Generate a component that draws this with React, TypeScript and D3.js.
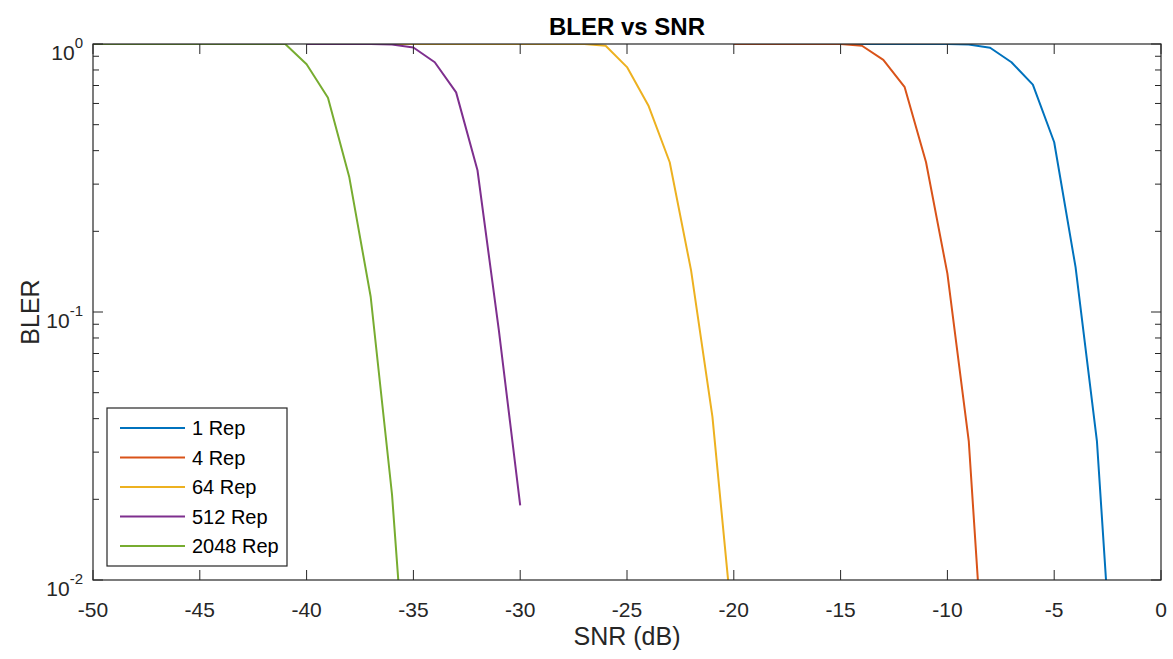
import React, { useEffect, useRef } from "react";
import * as d3 from "d3";

// SNR (dB) sample points for each repetition level
const snr1 = [-15, -14, -13, -12, -11, -10, -9, -8, -7, -6, -5, -4, -3, -2];
const bler1 = [1, 1, 1, 1, 1, 1, 0.995, 0.968, 0.855, 0.705, 0.43, 0.147, 0.033, 0.002];

const snr4 = [-20, -19, -18, -17, -16, -15, -14, -13, -12, -11, -10, -9, -8];
const bler4 = [1, 1, 1, 1, 1, 1, 0.985, 0.873, 0.69, 0.362, 0.139, 0.033, 0.002];

const snr64 = [-40, -39, -38, -37, -36, -35, -34, -33, -32, -31, -30, -29, -28, -27, -26, -25, -24, -23, -22, -21, -20];
const bler64 = [1, 1, 1, 1, 1, 1, 1, 1, 1, 1, 1, 1, 1, 1, 0.985, 0.82, 0.59, 0.362, 0.143, 0.0406, 0.006];

const snr512 = [-40, -39, -38, -37, -36, -35, -34, -33, -32, -31, -30];
const bler512 = [1, 1, 1, 1, 0.995, 0.97, 0.855, 0.66, 0.338, 0.0855, 0.019];

const snr2048 = [-50, -49, -48, -47, -46, -45, -44, -43, -42, -41, -40, -39, -38, -37, -36, -35];
const bler2048 = [1, 1, 1, 1, 1, 1, 1, 1, 1, 1, 0.84, 0.63, 0.318, 0.114, 0.0208, 0.0017];

const seriesNames = ["1 Rep", "4 Rep", "64 Rep", "512 Rep", "2048 Rep"];
const seriesColors = ["#0072BD", "#D95319", "#EDB120", "#7E2F8E", "#77AC30"];
const seriesX = [snr1, snr4, snr64, snr512, snr2048];
const seriesY = [bler1, bler4, bler64, bler512, bler2048];

const xTicks = [-50, -45, -40, -35, -30, -25, -20, -15, -10, -5, 0];
const yMajor = [1, 0.1, 0.01];
const yMajorExp = ["0", "-1", "-2"];

const W = 1173;
const H = 659;
const FONT = "'Liberation Sans', Arial, Helvetica, sans-serif";
const AXIS = "#262626";

const App = () => {
  const ref = useRef<SVGSVGElement | null>(null);

  useEffect(() => {
    if (!ref.current) return;
    const margin = { top: 44, right: 12, bottom: 79, left: 93 };
    const innerW = W - margin.left - margin.right;
    const innerH = H - margin.top - margin.bottom;

    const root = d3.select(ref.current);
    root.selectAll("*").remove();
    root.append("rect").attr("width", W).attr("height", H).attr("fill", "#fff");

    const g = root.append("g").attr("transform", `translate(${margin.left},${margin.top})`);

    const x = d3.scaleLinear().domain([-50, 0]).range([0, innerW]);
    const y = d3.scaleLog().domain([0.01, 1]).range([innerH, 0]);

    root
      .append("defs")
      .append("clipPath")
      .attr("id", "plotclip")
      .append("rect")
      .attr("width", innerW)
      .attr("height", innerH);

    // curves
    const lines = g.append("g").attr("clip-path", "url(#plotclip)");
    seriesX.forEach((xs, i) => {
      const pts = xs.map((v, j) => [v, seriesY[i][j]] as [number, number]);
      const line = d3
        .line<[number, number]>()
        .x((d) => x(d[0]))
        .y((d) => y(d[1]));
      lines
        .append("path")
        .datum(pts)
        .attr("fill", "none")
        .attr("stroke", seriesColors[i])
        .attr("stroke-width", 2)
        .attr("stroke-linejoin", "round")
        .attr("d", line);
    });

    // box
    g.append("rect")
      .attr("width", innerW)
      .attr("height", innerH)
      .attr("fill", "none")
      .attr("stroke", AXIS)
      .attr("stroke-width", 1.2);

    // x ticks, inward on bottom and top
    const tickLen = 10;
    xTicks.forEach((t) => {
      const px = x(t);
      g.append("line").attr("x1", px).attr("x2", px).attr("y1", innerH).attr("y2", innerH - tickLen).attr("stroke", AXIS);
      g.append("line").attr("x1", px).attr("x2", px).attr("y1", 0).attr("y2", tickLen).attr("stroke", AXIS);
      g.append("text")
        .attr("x", px)
        .attr("y", innerH + 37)
        .attr("text-anchor", "middle")
        .attr("font-family", FONT)
        .attr("font-size", 21)
        .attr("fill", AXIS)
        .text(String(t));
    });

    // y ticks: majors + log minors, inward on left and right
    const minor: number[] = [];
    [0.01, 0.1].forEach((dec) => {
      for (let k = 2; k <= 9; k++) minor.push(dec * k);
    });
    minor.forEach((v) => {
      const py = y(v);
      g.append("line").attr("x1", 0).attr("x2", 6).attr("y1", py).attr("y2", py).attr("stroke", AXIS);
      g.append("line").attr("x1", innerW).attr("x2", innerW - 6).attr("y1", py).attr("y2", py).attr("stroke", AXIS);
    });
    yMajor.forEach((v, i) => {
      const py = y(v);
      g.append("line").attr("x1", 0).attr("x2", tickLen).attr("y1", py).attr("y2", py).attr("stroke", AXIS);
      g.append("line").attr("x1", innerW).attr("x2", innerW - tickLen).attr("y1", py).attr("y2", py).attr("stroke", AXIS);
      const label = g
        .append("text")
        .attr("x", -10)
        .attr("y", py + 16)
        .attr("text-anchor", "end")
        .attr("font-family", FONT)
        .attr("font-size", 21)
        .attr("fill", AXIS);
      label.append("tspan").text("10");
      label.append("tspan").attr("font-size", 15).attr("dy", -12).text(yMajorExp[i]);
    });

    // title and axis labels
    root
      .append("text")
      .attr("x", margin.left + innerW / 2)
      .attr("y", 35)
      .attr("text-anchor", "middle")
      .attr("font-family", FONT)
      .attr("font-size", 24)
      .attr("font-weight", "bold")
      .attr("fill", "#000")
      .text("BLER vs SNR");

    root
      .append("text")
      .attr("x", margin.left + innerW / 2)
      .attr("y", 645)
      .attr("text-anchor", "middle")
      .attr("font-family", FONT)
      .attr("font-size", 25)
      .attr("fill", AXIS)
      .text("SNR (dB)");

    root
      .append("text")
      .attr("transform", `translate(39,${margin.top + innerH / 2}) rotate(-90)`)
      .attr("text-anchor", "middle")
      .attr("font-family", FONT)
      .attr("font-size", 25)
      .attr("fill", AXIS)
      .text("BLER");

    // legend
    const lg = g.append("g").attr("transform", "translate(14,364)");
    lg.append("rect")
      .attr("width", 180)
      .attr("height", 158)
      .attr("fill", "#fff")
      .attr("stroke", AXIS)
      .attr("stroke-width", 1.2);
    seriesNames.forEach((name, i) => {
      const ly = 20 + i * 29.5;
      lg.append("line")
        .attr("x1", 13)
        .attr("x2", 78)
        .attr("y1", ly)
        .attr("y2", ly)
        .attr("stroke", seriesColors[i])
        .attr("stroke-width", 2);
      lg.append("text")
        .attr("x", 85)
        .attr("y", ly + 7)
        .attr("font-family", FONT)
        .attr("font-size", 20)
        .attr("fill", "#000")
        .text(name);
    });
  }, []);

  return (
    <svg
      ref={ref}
      width={W}
      height={H}
      style={{ position: "absolute", left: 0, top: 0, display: "block" }}
    />
  );
};

export default App;
